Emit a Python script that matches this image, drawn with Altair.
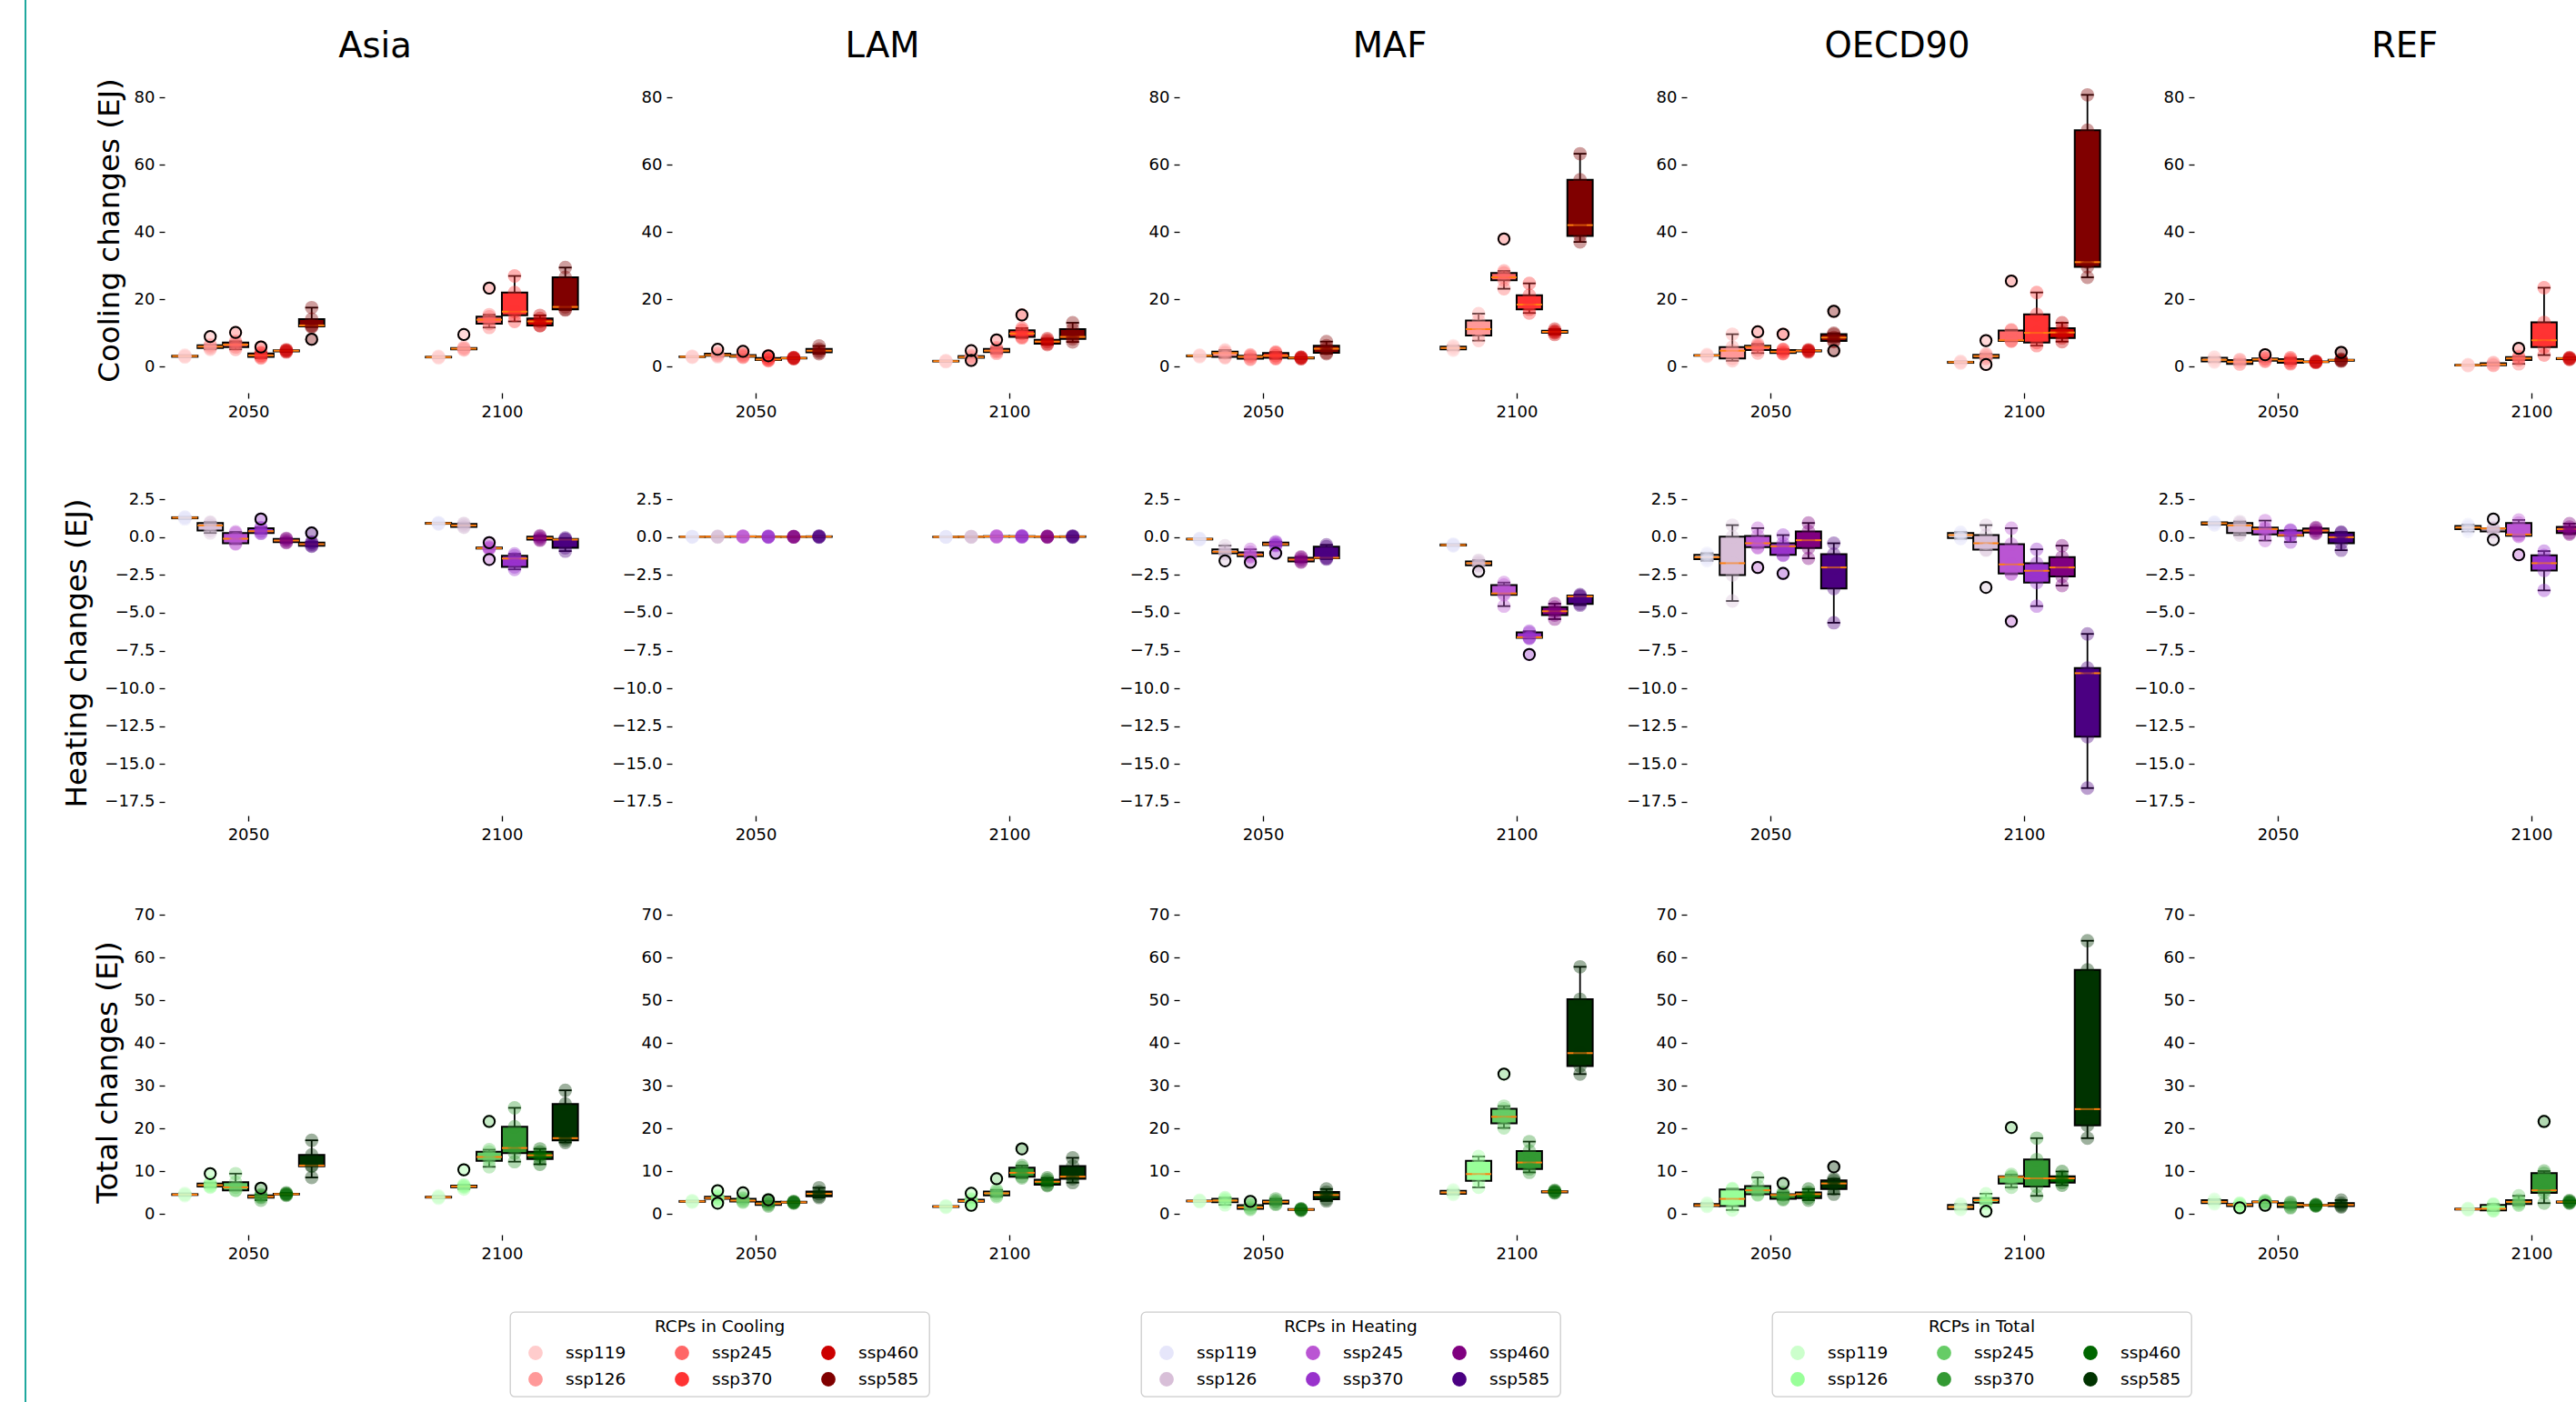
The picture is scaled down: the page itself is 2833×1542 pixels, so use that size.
import altair as alt
import pandas as pd

# ---------------------------------------------------------------- data
REGIONS = ["Asia", "LAM", "MAF", "OECD90", "REF"]
YEARS = ["2050", "2100"]
SSPS = ["ssp119", "ssp126", "ssp245", "ssp370", "ssp460", "ssp585"]

COOL_COLORS = ["#ffcccc", "#ff9999", "#ff6666", "#ff3333", "#cc0000", "#800000"]
HEAT_COLORS = ["#e6e6fa", "#d8bfd8", "#ba55d3", "#9932cc", "#800080", "#4b0082"]
TOTAL_COLORS = ["#ccffcc", "#99ff99", "#66cc66", "#339933", "#006600", "#003300"]

# box statistics per SSP: [lower whisker, Q1, median, Q3, upper whisker]
COOL_ASIA = {
    "2050": [[2.9, 3.0, 3.2, 3.3, 3.5], [5.2, 5.6, 6.0, 6.4, 6.6], [5.2, 5.9, 6.6, 7.2, 7.6],
             [2.6, 3.0, 3.4, 4.0, 4.3], [4.4, 4.6, 4.8, 4.9, 5.1], [11.8, 12.0, 12.3, 14.2, 17.6]],
    "2100": [[2.6, 2.8, 2.9, 3.0, 3.2], [5.0, 5.2, 5.4, 5.6, 5.8], [11.7, 12.8, 14.0, 14.9, 15.5],
             [13.5, 15.3, 16.4, 22.1, 27.0], [12.2, 12.3, 13.5, 14.4, 15.3], [16.9, 17.1, 17.8, 26.6, 29.5]],
}
COOL_LAM = {
    "2050": [[2.8, 2.9, 3.0, 3.1, 3.2], [3.0, 3.3, 3.5, 3.9, 4.1], [2.8, 3.0, 3.2, 3.5, 3.7],
             [1.8, 2.0, 2.2, 2.6, 2.9], [2.4, 2.5, 2.6, 2.7, 2.8], [3.9, 4.3, 4.8, 5.3, 6.2]],
    "2100": [[1.5, 1.6, 1.7, 1.8, 1.9], [2.5, 2.7, 2.9, 3.2, 3.4], [4.0, 4.4, 4.8, 5.3, 5.7],
             [8.6, 8.9, 9.9, 10.9, 11.5], [6.6, 6.9, 7.5, 8.0, 8.4], [7.4, 8.3, 8.9, 11.2, 13.1]],
}
COOL_MAF = {
    "2050": [[3.0, 3.1, 3.3, 3.4, 3.5], [2.7, 3.0, 4.1, 4.5, 5.0], [2.2, 2.4, 3.0, 3.3, 3.6],
             [2.4, 2.7, 3.3, 4.1, 4.4], [2.4, 2.5, 2.7, 2.8, 2.9], [3.9, 4.2, 5.4, 6.3, 7.5]],
    "2100": [[4.9, 5.2, 5.6, 6.0, 6.3], [7.8, 9.3, 11.2, 13.8, 15.8], [23.2, 25.7, 26.6, 27.9, 28.5],
             [16.0, 17.1, 18.5, 21.3, 24.8], [9.6, 10.1, 10.4, 10.7, 11.2], [37.1, 38.9, 42.1, 55.6, 63.3]],
}
COOL_OECD90 = {
    "2050": [[3.1, 3.3, 3.4, 3.5, 3.7], [1.8, 2.5, 4.8, 5.9, 9.7], [4.1, 5.0, 5.9, 6.3, 6.8],
             [3.9, 4.1, 4.5, 5.0, 5.2], [4.4, 4.6, 4.8, 4.9, 5.1], [7.5, 7.7, 8.7, 9.7, 10.0]],
    "2100": [[1.1, 1.2, 1.4, 1.5, 1.7], [2.4, 2.7, 3.2, 3.6, 3.9], [7.6, 7.7, 7.9, 10.8, 11.0],
             [6.3, 7.2, 10.1, 15.6, 22.1], [7.5, 8.6, 10.2, 11.5, 13.1], [26.6, 29.7, 31.1, 70.3, 80.8]],
}
COOL_REF = {
    "2050": [[1.4, 1.6, 2.1, 2.7, 2.9], [0.8, 0.9, 1.5, 2.0, 2.2], [1.6, 1.8, 2.2, 2.5, 2.7],
             [0.9, 1.2, 1.8, 2.3, 2.7], [1.3, 1.4, 1.5, 1.6, 1.7], [1.7, 1.8, 2.0, 2.1, 2.3]],
    "2100": [[0.3, 0.4, 0.5, 0.6, 0.7], [0.4, 0.5, 0.7, 1.1, 1.3], [0.9, 2.0, 2.5, 2.9, 3.1],
             [3.5, 5.9, 7.9, 13.2, 23.5], [2.2, 2.3, 2.5, 2.6, 2.8], [2.4, 2.7, 3.0, 3.4, 3.8]],
}
COOL_OUTLIERS = [
    ("Asia", "2050", "ssp126", 9.0), ("Asia", "2050", "ssp245", 10.2), ("Asia", "2050", "ssp370", 5.9),
    ("Asia", "2050", "ssp585", 8.2), ("Asia", "2100", "ssp126", 9.6), ("Asia", "2100", "ssp245", 23.4),
    ("LAM", "2050", "ssp126", 5.2), ("LAM", "2050", "ssp245", 4.6), ("LAM", "2050", "ssp370", 3.3),
    ("LAM", "2100", "ssp126", 4.8), ("LAM", "2100", "ssp126", 1.9), ("LAM", "2100", "ssp245", 8.0),
    ("LAM", "2100", "ssp370", 15.4),
    ("MAF", "2100", "ssp245", 38.0),
    ("OECD90", "2050", "ssp245", 10.4), ("OECD90", "2050", "ssp370", 9.7), ("OECD90", "2050", "ssp585", 16.5),
    ("OECD90", "2050", "ssp585", 4.8), ("OECD90", "2100", "ssp126", 7.8), ("OECD90", "2100", "ssp126", 0.7),
    ("OECD90", "2100", "ssp245", 25.5),
    ("REF", "2050", "ssp245", 3.6), ("REF", "2050", "ssp585", 4.3), ("REF", "2100", "ssp245", 5.5),
]

HEAT_ASIA = {
    "2050": [[1.2, 1.25, 1.29, 1.32, 1.35], [0.28, 0.44, 0.78, 0.94, 1.0], [-0.45, -0.4, -0.1, 0.28, 0.35],
             [0.25, 0.28, 0.4, 0.6, 0.65], [-0.36, -0.32, -0.22, -0.12, -0.08], [-0.6, -0.56, -0.46, -0.36, -0.32]],
    "2100": [[0.86, 0.89, 0.92, 0.95, 0.97], [0.65, 0.68, 0.78, 0.88, 0.92], [-0.78, -0.75, -0.72, -0.68, -0.64],
             [-2.13, -1.97, -1.41, -1.22, -1.1], [-0.2, -0.16, -0.06, 0.04, 0.1], [-0.92, -0.7, -0.16, -0.12, -0.05]],
}
HEAT_LAM = {
    "2050": [[0.0, 0.02, 0.03, 0.04, 0.06], [0.0, 0.02, 0.04, 0.05, 0.07], [0.01, 0.03, 0.05, 0.06, 0.08],
             [0.0, 0.02, 0.03, 0.05, 0.07], [0.01, 0.02, 0.03, 0.04, 0.05], [0.0, 0.02, 0.04, 0.06, 0.08]],
    "2100": [[0.0, 0.01, 0.02, 0.03, 0.04], [0.0, 0.02, 0.03, 0.04, 0.06], [0.01, 0.03, 0.05, 0.07, 0.09],
             [0.01, 0.03, 0.05, 0.07, 0.1], [0.0, 0.02, 0.04, 0.05, 0.07], [0.0, 0.02, 0.04, 0.06, 0.09]],
}
HEAT_MAF = {
    "2050": [[-0.18, -0.15, -0.12, -0.1, -0.08], [-1.1, -1.06, -0.96, -0.8, -0.56], [-1.3, -1.26, -1.16, -1.0, -0.8],
             [-0.56, -0.52, -0.46, -0.36, -0.3], [-1.65, -1.6, -1.48, -1.36, -1.3], [-1.45, -1.4, -1.36, -0.62, -0.5]],
    "2100": [[-0.58, -0.55, -0.52, -0.48, -0.45], [-1.9, -1.86, -1.72, -1.6, -1.52], [-4.56, -3.82, -3.72, -3.16, -3.0],
             [-6.7, -6.66, -6.62, -6.3, -6.22], [-5.42, -5.16, -4.9, -4.62, -4.4], [-4.5, -4.42, -3.92, -3.86, -3.8]],
}
HEAT_OECD90 = {
    "2050": [[-1.56, -1.46, -1.32, -1.16, -1.06], [-4.22, -2.5, -1.72, 0.04, 0.8], [-0.7, -0.66, -0.4, 0.08, 0.6],
             [-1.2, -1.16, -0.6, -0.4, 0.14], [-1.4, -0.72, -0.2, 0.38, 0.94], [-5.66, -3.4, -2.0, -1.12, -0.4]],
    "2100": [[-0.1, -0.06, 0.14, 0.28, 0.34], [-0.86, -0.82, -0.4, 0.14, 0.8], [-2.45, -2.4, -1.8, -0.46, 0.6],
             [-4.56, -3.0, -2.22, -1.72, -0.8], [-3.2, -2.6, -2.0, -1.32, -0.56], [-16.6, -13.2, -9.0, -8.66, -6.4]],
}
HEAT_REF = {
    "2050": [[0.8, 0.84, 0.92, 0.98, 1.0], [0.14, 0.28, 0.78, 0.94, 1.04], [-0.22, 0.18, 0.54, 0.64, 1.1],
             [-0.32, 0.1, 0.14, 0.44, 0.48], [0.24, 0.3, 0.44, 0.58, 0.64], [-0.86, -0.4, 0.0, 0.3, 0.34]],
    "2100": [[0.38, 0.54, 0.64, 0.74, 0.84], [0.35, 0.38, 0.58, 0.58, 0.62], [0.05, 0.1, 0.18, 0.94, 1.14],
             [-3.52, -2.2, -1.72, -1.2, -0.92], [0.2, 0.28, 0.54, 0.68, 0.9], [0.0, 0.1, 0.3, 0.5, 0.6]],
}
HEAT_OUTLIERS = [
    ("Asia", "2050", "ssp370", 1.2), ("Asia", "2050", "ssp585", 0.28),
    ("Asia", "2100", "ssp245", -0.36), ("Asia", "2100", "ssp245", -1.47),
    ("MAF", "2050", "ssp126", -1.56), ("MAF", "2050", "ssp245", -1.66), ("MAF", "2050", "ssp370", -1.06),
    ("MAF", "2100", "ssp126", -2.26), ("MAF", "2100", "ssp370", -7.76),
    ("OECD90", "2050", "ssp245", -2.0), ("OECD90", "2050", "ssp370", -2.4),
    ("OECD90", "2100", "ssp126", -3.32), ("OECD90", "2100", "ssp245", -5.56),
    ("REF", "2100", "ssp126", 1.2), ("REF", "2100", "ssp126", -0.16), ("REF", "2100", "ssp245", -1.16),
]

TOTAL_ASIA = {
    "2050": [[4.2, 4.4, 4.5, 4.6, 4.8], [6.2, 6.4, 6.7, 7.1, 7.3], [5.5, 5.5, 6.2, 7.4, 9.4],
             [3.2, 3.8, 4.0, 4.3, 4.5], [4.3, 4.5, 4.6, 4.7, 4.9], [8.5, 11.1, 11.3, 13.8, 17.2]],
    "2100": [[3.6, 3.8, 3.9, 4.0, 4.2], [5.8, 6.2, 6.4, 6.6, 6.8], [11.0, 12.4, 13.3, 14.5, 15.0],
             [12.2, 14.2, 15.4, 20.4, 24.8], [11.6, 12.8, 13.7, 14.5, 15.2], [16.7, 17.2, 17.7, 25.7, 28.9]],
}
TOTAL_LAM = {
    "2050": [[2.7, 2.8, 2.9, 3.0, 3.1], [3.2, 3.5, 3.7, 4.0, 4.2], [2.7, 2.9, 3.1, 3.5, 3.7],
             [1.8, 2.1, 2.4, 2.8, 3.0], [2.5, 2.6, 2.7, 2.8, 2.9], [3.8, 4.1, 4.7, 5.2, 6.1]],
    "2100": [[1.5, 1.6, 1.7, 1.8, 1.9], [2.6, 2.8, 3.0, 3.3, 3.5], [4.0, 4.3, 4.8, 5.2, 5.6],
             [8.4, 8.7, 9.6, 10.8, 11.3], [6.6, 6.8, 7.5, 8.0, 8.4], [7.3, 8.2, 8.7, 11.2, 13.1]],
}
TOTAL_MAF = {
    "2050": [[2.8, 2.9, 3.0, 3.1, 3.2], [2.1, 2.7, 3.1, 3.5, 3.8], [1.0, 1.2, 1.5, 2.0, 2.2],
             [2.2, 2.4, 2.8, 3.1, 3.5], [0.8, 0.9, 1.0, 1.1, 1.2], [3.0, 3.4, 4.4, 5.1, 5.8]],
    "2100": [[4.5, 4.7, 5.0, 5.4, 5.6], [6.2, 7.7, 9.3, 12.4, 13.4], [20.1, 21.2, 22.7, 24.6, 25.2],
             [9.7, 10.5, 12.0, 14.7, 16.9], [4.9, 5.0, 5.2, 5.3, 5.5], [32.7, 34.6, 37.6, 50.2, 57.8]],
}
TOTAL_OECD90 = {
    "2050": [[1.7, 1.8, 2.0, 2.3, 2.5], [0.9, 1.8, 3.5, 5.7, 5.9], [4.4, 4.6, 5.5, 6.5, 8.5],
             [3.3, 3.5, 4.4, 4.6, 5.0], [3.2, 3.7, 4.6, 5.0, 5.8], [4.6, 5.8, 7.1, 7.8, 8.2]],
    "2100": [[1.0, 1.1, 1.6, 2.1, 2.3], [2.4, 2.6, 3.2, 3.7, 4.7], [6.2, 7.1, 8.6, 8.8, 9.2],
             [4.2, 6.4, 8.3, 12.7, 17.7], [6.7, 7.3, 8.3, 8.8, 9.9], [17.7, 20.7, 24.5, 57.1, 63.9]],
}
TOTAL_REF = {
    "2050": [[2.3, 2.5, 2.8, 3.2, 3.4], [1.7, 1.8, 2.1, 2.3, 2.5], [2.5, 2.7, 2.8, 2.9, 3.1],
             [1.4, 1.6, 2.1, 2.5, 2.7], [1.8, 1.9, 2.0, 2.1, 2.2], [1.6, 1.8, 2.1, 2.5, 3.2]],
    "2100": [[0.9, 1.0, 1.1, 1.2, 1.3], [0.7, 0.8, 1.2, 2.1, 2.3], [2.0, 2.3, 2.8, 3.2, 4.2],
             [2.5, 4.9, 5.5, 9.5, 10.0], [2.5, 2.6, 2.8, 2.9, 3.1], [2.6, 2.9, 3.2, 3.6, 4.0]],
}
TOTAL_OUTLIERS = [
    ("Asia", "2050", "ssp126", 9.4), ("Asia", "2050", "ssp370", 6.0),
    ("Asia", "2100", "ssp126", 10.3), ("Asia", "2100", "ssp245", 21.6),
    ("LAM", "2050", "ssp126", 5.4), ("LAM", "2050", "ssp126", 2.5), ("LAM", "2050", "ssp245", 4.9),
    ("LAM", "2050", "ssp370", 3.3), ("LAM", "2100", "ssp126", 4.8), ("LAM", "2100", "ssp126", 2.0),
    ("LAM", "2100", "ssp245", 8.2), ("LAM", "2100", "ssp370", 15.2),
    ("MAF", "2050", "ssp245", 2.9), ("MAF", "2100", "ssp245", 32.7),
    ("OECD90", "2050", "ssp370", 7.1), ("OECD90", "2050", "ssp585", 11.0),
    ("OECD90", "2100", "ssp126", 0.6), ("OECD90", "2100", "ssp245", 20.2),
    ("REF", "2050", "ssp126", 1.4), ("REF", "2050", "ssp245", 2.0), ("REF", "2100", "ssp370", 21.6),
]

COOL_BOXES = {"Asia": COOL_ASIA, "LAM": COOL_LAM, "MAF": COOL_MAF, "OECD90": COOL_OECD90, "REF": COOL_REF}
HEAT_BOXES = {"Asia": HEAT_ASIA, "LAM": HEAT_LAM, "MAF": HEAT_MAF, "OECD90": HEAT_OECD90, "REF": HEAT_REF}
TOTAL_BOXES = {"Asia": TOTAL_ASIA, "LAM": TOTAL_LAM, "MAF": TOTAL_MAF, "OECD90": TOTAL_OECD90, "REF": TOTAL_REF}

# name, y title, colours, boxes, outliers, y domain, y ticks, tick format, title x offset, legend title
VARS = [
    ("Cooling", "Cooling changes (EJ)", COOL_COLORS, COOL_BOXES, COOL_OUTLIERS,
     [-7.70, 88.99], [0, 20, 40, 60, 80], "d", -61, "RCPs in Cooling"),
    ("Heating", "Heating changes (EJ)", HEAT_COLORS, HEAT_BOXES, HEAT_OUTLIERS,
     [-18.42, 3.12], [2.5, 0, -2.5, -5, -7.5, -10, -12.5, -15, -17.5], ".1f", -97, "RCPs in Heating"),
    ("Total", "Total changes (EJ)", TOTAL_COLORS, TOTAL_BOXES, TOTAL_OUTLIERS,
     [-4.89, 71.28], [0, 10, 20, 30, 40, 50, 60, 70], "d", -63, "RCPs in Total"),
]

# ---------------------------------------------------------------- layout constants
FONT = "DejaVu Sans"
TEAL = "#1fa89e"
PANEL_W = 463
PANEL_H = 358
X_MIN, X_MAX = 0.67, 2.33
PX_PER_UNIT = PANEL_W / (X_MAX - X_MIN)
REF_W = 420
REF_X_MAX = X_MIN + REF_W / PX_PER_UNIT
BOX_W = 0.1
# teal strip extents (plot-relative) per row; they also fix how the rows stack
TEAL_SEG = [(-74, 414), (-51, 410), (-51, 420)]
LEG_SEG = (-23, 99)

# ---------------------------------------------------------------- tables
box_rows, pt_rows, out_rows = [], [], []
for vname, _, colors, boxes, outliers, *_rest in VARS:
    for region in REGIONS:
        for yi, year in enumerate(YEARS):
            for si, ssp in enumerate(SSPS):
                lo, q1, med, q3, hi = boxes[region][year][si]
                pos = 1 + yi + (si - 2.5) * BOX_W
                box_rows.append(dict(var=vname, region=region, year=year, ssp=ssp, pos=pos,
                                     bl=pos - BOX_W / 2, br=pos + BOX_W / 2,
                                     cl=pos - BOX_W / 4, cr=pos + BOX_W / 4,
                                     lo=lo, q1=q1, med=med, q3=q3, hi=hi, color=colors[si]))
                for v in (lo, q1, med, q3, hi):
                    pt_rows.append(dict(var=vname, region=region, pos=pos, value=v, color=colors[si]))
    for region, year, ssp, v in outliers:
        si = SSPS.index(ssp)
        pos = 1 + YEARS.index(year) + (si - 2.5) * BOX_W
        out_rows.append(dict(var=vname, region=region, pos=pos, value=v, color=colors[si]))
        pt_rows.append(dict(var=vname, region=region, pos=pos, value=v, color=colors[si]))

box_df = pd.DataFrame(box_rows)
pt_df = pd.DataFrame(pt_rows)
out_df = pd.DataFrame(out_rows)

ONE = pd.DataFrame({"k": [0]})


def teal_strip(t, b):
    return alt.Chart(ONE).mark_rect(color=TEAL, opacity=1).encode(
        x=alt.value(-154), x2=alt.value(-152), y=alt.value(t), y2=alt.value(b))


def panel(vi, ci):
    vname, ytitle, colors, _b, _o, ydom, yticks, yfmt, titlex, _lt = VARS[vi]
    region = REGIONS[ci]
    is_ref = ci == len(REGIONS) - 1
    width = REF_W if is_ref else PANEL_W
    xmax = REF_X_MAX if is_ref else X_MAX
    clip = bool(is_ref)

    bdf = box_df[(box_df["var"] == vname) & (box_df["region"] == region)]
    pdf = pt_df[(pt_df["var"] == vname) & (pt_df["region"] == region)]
    odf = out_df[(out_df["var"] == vname) & (out_df["region"] == region)]

    xs = alt.Scale(domain=[X_MIN, xmax], nice=False, zero=False)
    ys = alt.Scale(domain=ydom, nice=False, zero=False)
    xaxis = alt.Axis(values=[1, 2], labelExpr="datum.value == 1 ? '2050' : '2100'",
                     labelFlush=False, labelPadding=6)
    if ci == 0:
        yaxis = alt.Axis(values=yticks, format=yfmt, labelFlush=False, labelPadding=5,
                         titleX=titlex, titleY=PANEL_H / 2, titleAngle=270,
                         titleAlign="center", titleBaseline="middle")
        yt = ytitle
    else:
        yaxis = alt.Axis(values=yticks, format=yfmt, labelFlush=False, labelPadding=5)
        yt = None

    def X(f):
        return alt.X(f, type="quantitative", scale=xs, axis=xaxis, title=None)

    def Y(f):
        return alt.Y(f, type="quantitative", scale=ys, axis=yaxis, title=yt)

    col = alt.Color("color:N", scale=None, legend=None)
    base = alt.Chart(bdf)
    rule_kw = dict(color="black", strokeWidth=1.8, clip=clip)
    layers = [
        base.mark_rule(**rule_kw).encode(x=X("pos"), y=Y("lo"), y2="q1"),
        base.mark_rule(**rule_kw).encode(x=X("pos"), y=Y("q3"), y2="hi"),
        base.mark_rule(**rule_kw).encode(x=X("cl"), x2="cr", y=Y("lo")),
        base.mark_rule(**rule_kw).encode(x=X("cl"), x2="cr", y=Y("hi")),
        base.mark_rect(stroke="black", strokeWidth=2, clip=clip).encode(
            x=X("bl"), x2="br", y=Y("q1"), y2="q3", color=col),
        base.mark_rule(color="#ff7f0e", strokeWidth=2, clip=clip).encode(x=X("bl"), x2="br", y=Y("med")),
        alt.Chart(pdf).mark_circle(size=220, opacity=0.38, clip=clip).encode(
            x=X("pos"), y=Y("value"), color=col),
    ]
    if len(odf):
        layers.append(alt.Chart(odf).mark_point(shape="circle", filled=False, size=150, color="black",
                                                strokeWidth=2, opacity=1, clip=clip).encode(
            x=X("pos"), y=Y("value")))
    if vi == 0:
        layers.append(alt.Chart(pd.DataFrame({"t": [region]})).mark_text(
            font=FONT, fontSize=38.5, color="black", align="center", baseline="alphabetic").encode(
            x=alt.XDatum(1.5, type="quantitative", scale=xs, axis=xaxis, title=None),
            y=alt.value(-11), text="t:N"))
    if ci == 0:
        layers.append(teal_strip(*TEAL_SEG[vi]))
    else:
        layers.append(alt.Chart(ONE).mark_rule(color="white", opacity=0, strokeWidth=1).encode(
            x=alt.value(-94.5), y=alt.value(10), y2=alt.value(20)))
    return alt.layer(*layers).properties(width=width, height=PANEL_H)


rows = [alt.hconcat(*[panel(vi, ci) for ci in range(len(REGIONS))], spacing=0) for vi in range(3)]

# ---------------------------------------------------------------- legends
LEG_W, LEG_H = 461, 93


def legend(vi):
    colors = VARS[vi][2]
    ltitle = VARS[vi][9]
    ldf = pd.DataFrame({"ssp": SSPS, "color": colors,
                        "col": [i // 2 for i in range(len(SSPS))],
                        "row": [i % 2 for i in range(len(SSPS))]})
    xs = alt.Scale(domain=[0, 2], range=[28, 350])
    ys = alt.Scale(domain=[0, 1], range=[45, 74])
    base = alt.Chart(ldf).encode(x=alt.X("col:Q", scale=xs, axis=None),
                                 y=alt.Y("row:Q", scale=ys, axis=None))
    dots = base.mark_circle(size=250, opacity=1).encode(color=alt.Color("color:N", scale=None, legend=None))
    labels = base.mark_text(align="left", baseline="middle", dx=33, font=FONT, fontSize=18.5,
                            color="black").encode(text="ssp:N")
    title = alt.Chart(pd.DataFrame({"t": [ltitle]})).mark_text(
        align="center", baseline="middle", font=FONT, fontSize=18.5, color="black").encode(
        x=alt.value(LEG_W / 2), y=alt.value(16), text="t:N")
    return alt.layer(dots, labels, title).properties(
        width=LEG_W, height=LEG_H,
        view=alt.ViewBackground(stroke="#cccccc", strokeWidth=1.3, cornerRadius=5))


spacer = alt.layer(
    teal_strip(*LEG_SEG),
    alt.Chart(ONE).mark_rule(color="white", opacity=0, strokeWidth=1).encode(
        x=alt.value(147.5), y=alt.value(10), y2=alt.value(20)),
).properties(width=148, height=LEG_H)

legend_row = alt.hconcat(spacer, legend(0), legend(1), legend(2), spacing=231)

chart = alt.vconcat(*rows, legend_row, spacing=0).properties(
    padding={"left": 27, "top": 0, "right": 0, "bottom": 0}
).configure_view(stroke=None).configure_axis(
    labelFont=FONT, labelFontSize=18, labelColor="black",
    tickColor="black", tickWidth=1.3, tickSize=6,
    domain=False, grid=False,
    titleFont=FONT, titleFontSize=32.5, titleFontWeight="normal", titleColor="black",
)

chart.save("out.html", embed_options={"renderer": "svg", "actions": False})
